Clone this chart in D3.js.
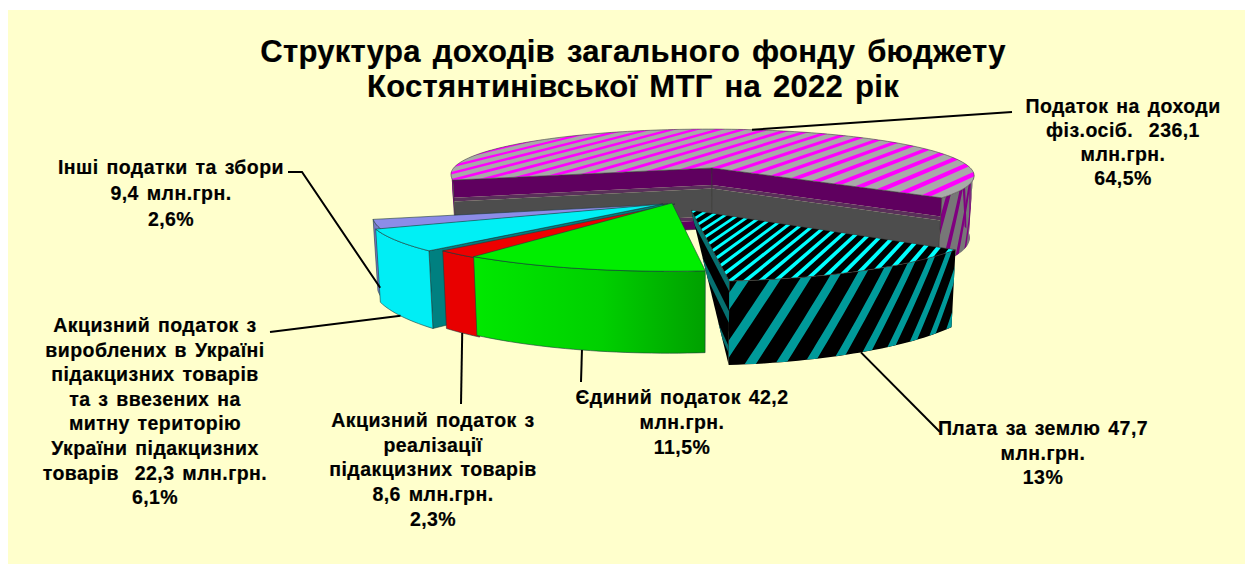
<!DOCTYPE html>
<html>
<head>
<meta charset="utf-8">
<script src="https://cdn.jsdelivr.net/npm/d3@7"></script>
<style>
html,body{margin:0;padding:0;background:#fff;}
svg{display:block;}
text{font-family:"Liberation Sans",Arial,sans-serif;font-weight:bold;fill:#000;text-anchor:middle;white-space:pre;stroke:#000;stroke-width:.2;}
</style>
</head>
<body>
<div id="canvas"></div>
<script>
//Data
var categories = ['Податок на доходи фіз.осіб','Плата за землю','Єдиний податок','Акцизний податок з реалізації','Акцизний податок з вироблених','Інші податки та збори'];
var values = [236.1,47.7,42.2,8.6,22.3,9.4];
var titleLines = ['Структура доходів загального фонду бюджету','Костянтинівської МТГ на 2022 рік'];
var labelLines = [
    ['Податок на доходи','фіз.осіб.  236,1','млн.грн.','64,5%'],
    ['Плата за землю 47,7','млн.грн.','13%'],
    ['Єдиний податок 42,2','млн.грн.','11,5%'],
    ['Акцизний податок з','реалізації','підакцизних товарів','8,6 млн.грн.','2,3%'],
    ['Акцизний податок з','вироблених в Україні','підакцизних товарів','та з ввезених на','митну територію','України підакцизних','товарів  22,3 млн.грн.','6,1%'],
    ['Інші податки та збори','9,4 млн.грн.','2,6%']
];

//Layout, not data
var W = 1245, H = 564;
var view = {cx:690,cy:190,rx:278,ry:52,depth:6,z:65,inset:.015};
var rad = Math.PI/180;
var explode = [[22,-22],[1,20],[-18,13],[-15,14],[-27,14],[-22,14]];
var topFill = ['#a9a9a9','#000','#00ee00','#ee0000','#00f0f5','#8c8ce8'];
var labelPos = [
    {x:1123,y:113,dy:24},
    {x:1043,y:435,dy:24.5},
    {x:682,y:404,dy:25},
    {x:433,y:427,dy:24.7},
    {x:155,y:332,dy:24.6},
    {x:171,y:174,dy:26}
];
var leaderEnds = [[[1012,112]],[[940,432]],[[581,382]],[[461,404]],[[270,332]],[[302,172],[288,172]]];
var leaderZ = [0,1,1,1,1,.88];

var svg = d3.select('#canvas').append('svg').attr('width',W).attr('height',H);
var defs = svg.append('defs');
svg.append('rect').attr('x',8).attr('y',10).attr('width',W-8).attr('height',H-10).attr('fill','#ffffcc');

var grad = defs.append('linearGradient').attr('id','greenWall')
    .attr('gradientUnits','userSpaceOnUse').attr('x1',475).attr('x2',705).attr('y1',0).attr('y2',0);
grad.append('stop').attr('offset',0).attr('stop-color','#00e800');
grad.append('stop').attr('offset',.55).attr('stop-color','#00d000');
grad.append('stop').attr('offset',1).attr('stop-color','#00a000');

var slices = d3.pie().sort(null).value(function(d){return d})
    .startAngle(-105*rad).endAngle(255*rad)(values);

var line = d3.line();

//screen -> ground plane
function toGround(sx,sy){
    var yn = (sy-view.cy)/view.ry;
    var v = yn*view.depth/(view.depth+yn);
    var s = view.depth/(view.depth-v);
    return {u:(sx-view.cx)/(view.rx*s),v:v};
}
//ground plane -> screen, zf is 0 at the top face and 1 at the bottom
function project(u,v,zf){
    zf = zf||0;
    var s = view.depth/(view.depth-v);
    var x = view.cx+u*s*view.rx,
        y = view.cy+v*s*view.ry;
    x = view.cx+(x-view.cx)*(1-view.inset*zf);
    y = y+view.z*s*zf;
    return [x,y];
}
function rimPoint(o,a,zf){
    return project(o.u+Math.sin(a),o.v-Math.cos(a),zf);
}
function arcRange(a0,a1){
    var n = Math.max(2,Math.ceil(Math.abs(a1-a0)/(1.5*rad)));
    return d3.range(n+1).map(function(i){return a0+(a1-a0)*i/n});
}
function closed(pts){return line(pts)+'Z'}

function topPath(o,d){
    var pts = [project(o.u,o.v)];
    arcRange(d.startAngle,d.endAngle).forEach(function(a){pts.push(rimPoint(o,a))});
    return closed(pts);
}
//band of the radial wall between two depths
function radial(o,a,z0,z1){
    return closed([project(o.u,o.v,z0),rimPoint(o,a,z0),rimPoint(o,a,z1),project(o.u,o.v,z1)]);
}
//band of the round wall
function rim(o,a0,a1,z0,z1){
    var as = arcRange(a0,a1);
    return closed(as.map(function(a){return rimPoint(o,a,z0)})
        .concat(as.slice().reverse().map(function(a){return rimPoint(o,a,z1)})));
}
//visible part of the round wall, [a0,a1] pairs. Starts past the widest point so the band does not fold
function frontRanges(d){
    var out = [];
    [[95*rad,265*rad],[-265*rad,-95*rad]].forEach(function(r){
        var a0 = Math.max(d.startAngle,r[0]), a1 = Math.min(d.endAngle,r[1]);
        if(a1>a0) out.push([a0,a1]);
    });
    return out;
}
function clip(id,path){
    defs.append('clipPath').attr('id',id).append('path').attr('d',path);
}
//slanted stripes running over the round wall
function rimStripes(g,o,a0,a1,step,lean,width,color){
    var c = a0-lean-step;
    while(c<a1){
        var pts0 = [], pts1 = [];
        d3.range(0,1.01,.1).forEach(function(z){
            pts0.push(rimPoint(o,c+lean*z,z));
            pts1.unshift(rimPoint(o,c+width+lean*z,z));
        });
        g.append('path').attr('d',closed(pts0.concat(pts1))).attr('fill',color);
        c += step;
    }
}
//slanted stripes lying on the top face
function topStripes(g,o,k0,k1,step,slope,width,color){
    d3.range(k0,k1,step).forEach(function(k){
        var v0 = o.v-1.2, v1 = o.v+1.2;
        var a = project(o.u+k-slope*(v0-o.v),v0),
            b = project(o.u+k-slope*(v1-o.v),v1),
            c = project(o.u+k+width-slope*(v1-o.v),v1),
            e = project(o.u+k+width-slope*(v0-o.v),v0);
        g.append('path').attr('d',closed([a,b,c,e])).attr('fill',color);
    });
}
function drawRim(g,i,d,o){
    frontRanges(d).forEach(function(r,j){
        var p = rim(o,r[0],r[1],0,1);
        if(i==0){
            var id = 'rim0'+j;
            clip(id,p);
            g.append('path').attr('d',p).attr('fill','#777');
            var sg = g.append('g').attr('clip-path','url(#'+id+')');
            rimStripes(sg,o,r[0],r[1],7*rad,7*rad,2.2*rad,'#800080');
        }else if(i==1){
            clip('rim1',p);
            g.append('path').attr('d',p).attr('fill','#000');
            var sg1 = g.append('g').attr('clip-path','url(#rim1)');
            rimStripes(sg1,o,r[0],r[1],5.3*rad,9.3*rad,1.9*rad,'#009a9a');
        }else{
            var wall = {2:'url(#greenWall)',3:'#e80000',4:'#00eef5',5:'#7878c8'}[i];
            g.append('path').attr('d',p).attr('fill',wall).attr('stroke',edge).attr('stroke-width',.6);
        }
    });
}

var origins = explode.map(function(e){return toGround(view.cx+e[0],view.cy+e[1])});

var chart = svg.append('g');
var edge = '#1c3a3a';

//back to front: first slice, then the small ones, land slice last
[0,5,4,3,2,1].forEach(function(i){
    var d = slices[i], o = origins[i];
    var g = chart.append('g').attr('class','slice slice-'+i);

    if(i==0) drawRim(g,i,d,o);

    //radial walls
    if(i==0){
        [d.startAngle,d.endAngle].forEach(function(a){
            [[0,.28,'#5f005f'],[.28,.34,'#5a305a'],[.34,.8,'#4d4d4d'],[.8,.86,'#5a305a'],[.86,1,'#5f005f']].forEach(function(b){
                g.append('path').attr('d',radial(o,a,b[0],b[1])).attr('fill',b[2]);
            });
            g.append('path').attr('d',radial(o,a,0,1)).attr('fill','none').attr('stroke','#333').attr('stroke-width',.6);
        });
    }else if(i==1){
        //the wall narrows to the apex, green slice stays visible beside it
        var a = d.endAngle,
            tri = closed([project(o.u,o.v),rimPoint(o,a,0),rimPoint(o,a,1)]);
        clip('wall1',tri);
        g.append('path').attr('d',tri).attr('fill','#000');
        var wg = g.append('g').attr('clip-path','url(#wall1)');
        [[0,.12],[.36,.5],[.78,.86]].forEach(function(b){
            wg.append('path').attr('d',radial(o,a,b[0],b[1])).attr('fill','#067070');
        });
    }else if(i==4){
        g.append('path').attr('d',radial(o,d.startAngle,0,1)).attr('fill','#008080')
            .attr('stroke',edge).attr('stroke-width',.6);
    }

    if(i!=0) drawRim(g,i,d,o);

    //top face
    var tp = topPath(o,d);
    g.append('path').attr('d',tp).attr('fill',topFill[i]);
    if(i==0){
        clip('top0',tp);
        topStripes(g.append('g').attr('clip-path','url(#top0)'),o,-2,2,.105,.56,.04,'#ff00ff');
    }
    if(i==1){
        clip('top1',tp);
        topStripes(g.append('g').attr('clip-path','url(#top1)'),o,-1,2,.042,.33,.016,'#00ffff');
    }
    g.append('path').attr('d',tp).attr('fill','none').attr('stroke',i<2?'#444':edge).attr('stroke-width',.6);
});

//leader lines start on the rim at the middle of each slice
var leaders = svg.append('g');
slices.forEach(function(d,i){
    var mid = (d.startAngle+d.endAngle)/2;
    var start = rimPoint(origins[i],mid,leaderZ[i]);
    leaders.append('path')
        .attr('d',line([start].concat(leaderEnds[i])))
        .attr('fill','none').attr('stroke','#000').attr('stroke-width',2);
});

//text
svg.append('g').selectAll('text').data(titleLines).enter().append('text')
    .attr('x',633)
    .attr('y',function(d,i){return 62+i*35})
    .style('font-size','31px')
    .style('letter-spacing','.3px')
    .style('word-spacing','3px')
    .text(function(d){return d});

labelLines.forEach(function(lines,i){
    var pos = labelPos[i];
    svg.append('g').attr('class','label').selectAll('text').data(lines).enter().append('text')
        .attr('x',pos.x)
        .attr('y',function(d,j){return pos.y+j*pos.dy})
        .style('font-size','19.5px')
        .style('letter-spacing','.45px')
        .style('word-spacing','2px')
        .text(function(d){return d});
});
</script>
</body>
</html>
